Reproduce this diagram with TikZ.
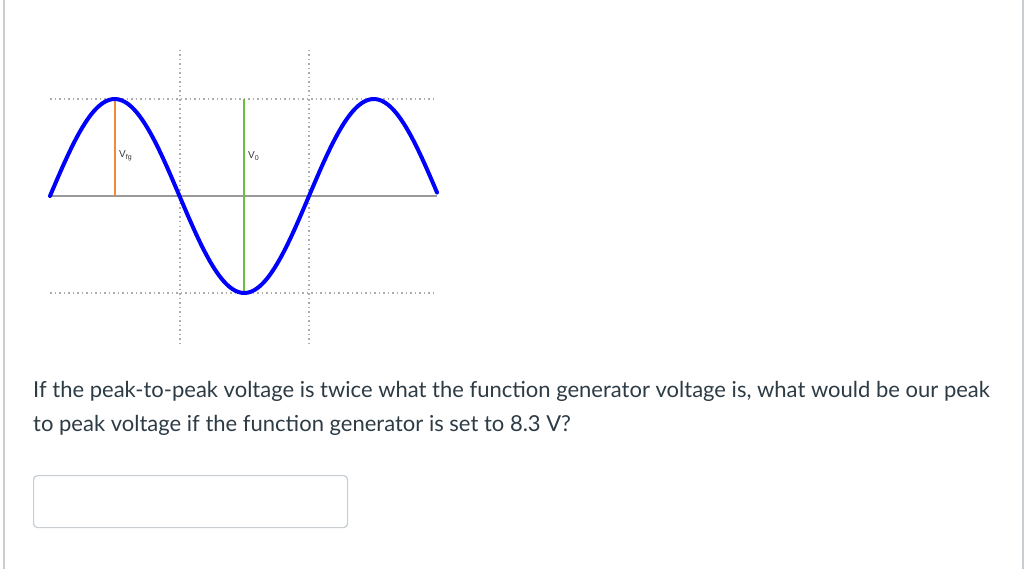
\documentclass[tikz,border=0pt]{standalone}
\usepackage{fontspec}
\setmainfont{Lato}
\newfontfamily\lblfont{Liberation Sans}
\definecolor{txtgray}{HTML}{2D3B45}
\definecolor{wavblue}{HTML}{0000FF}
\definecolor{vfgorange}{HTML}{F28A3C}
\definecolor{vogreen}{HTML}{6CBF3C}
\definecolor{gridgray}{HTML}{999999}
\definecolor{framegray}{HTML}{C7CDD1}
\tikzset{
  griddot/.style={gridgray!80, line width=1.5pt, dash pattern=on 1.5pt off 3pt},
  lbl/.style={anchor=west, inner sep=0pt, font=\lblfont\fontsize{10}{12}\selectfont, text=black!80},
  qline/.style={anchor=base west, inner sep=0pt, font=\fontsize{22}{27}\selectfont, text=txtgray}
}
\begin{document}
\begin{tikzpicture}[x=1pt, y=-1pt]
\useasboundingbox (0,0) rectangle (1024,569);
\coordinate (tl) at (4,0);
\coordinate (bl) at (4,569);
\coordinate (tr) at (1023,0);
\coordinate (br) at (1023,569);
\draw[framegray, line width=1.5pt](tl) -- (bl);
\draw[framegray, line width=1.5pt](tr) -- (br);
\coordinate (hl0) at (50,99);
\coordinate (hl1) at (437,99);
\coordinate (hl2) at (50,293);
\coordinate (hl3) at (437,293);
\coordinate (vl0) at (180,50);
\coordinate (vl1) at (180,346);
\coordinate (vl2) at (309,50);
\coordinate (vl3) at (309,346);
\draw[griddot](hl0) -- (hl1);
\draw[griddot](hl2) -- (hl3);
\draw[griddot](vl0) -- (vl1);
\draw[griddot](vl2) -- (vl3);
\coordinate (ax0) at (50,196);
\coordinate (ax1) at (437,196);
\draw[gridgray, line width=2pt](ax0) -- (ax1);
\coordinate (pk0) at (114.75,99);
\coordinate (pk0b) at (114.75,196);
\coordinate (tr0) at (244.25,99);
\coordinate (tr0b) at (244.25,293);
\draw[vfgorange, line width=1.6pt](pk0) -- (pk0b);
\draw[vogreen, line width=1.6pt](tr0) -- (tr0b);
\draw[wavblue, line width=4pt, line cap=round, line join=round]
  plot[domain=50:437, samples=120, smooth] (\x, {196-97*sin((\x-50)*1.38996)});
\node[lbl] (vfg) at (119,156){V\textsubscript{fg}};
\node[lbl] (vo) at (248,156){V\textsubscript{0}};
\node[qline] (q1) at (33,397.5){If the peak-to-peak voltage is twice what the function generator voltage is, what would be our peak};
\node[qline] (q2) at (33,431){to peak voltage if the function generator is set to 8.3 V?};
\node[draw=framegray, line width=1.2pt, fill=white, rounded corners=4pt, minimum width=314pt, minimum height=52pt, anchor=north west, inner sep=0pt] (ans) at (33,475){};
\end{tikzpicture}
\end{document}
